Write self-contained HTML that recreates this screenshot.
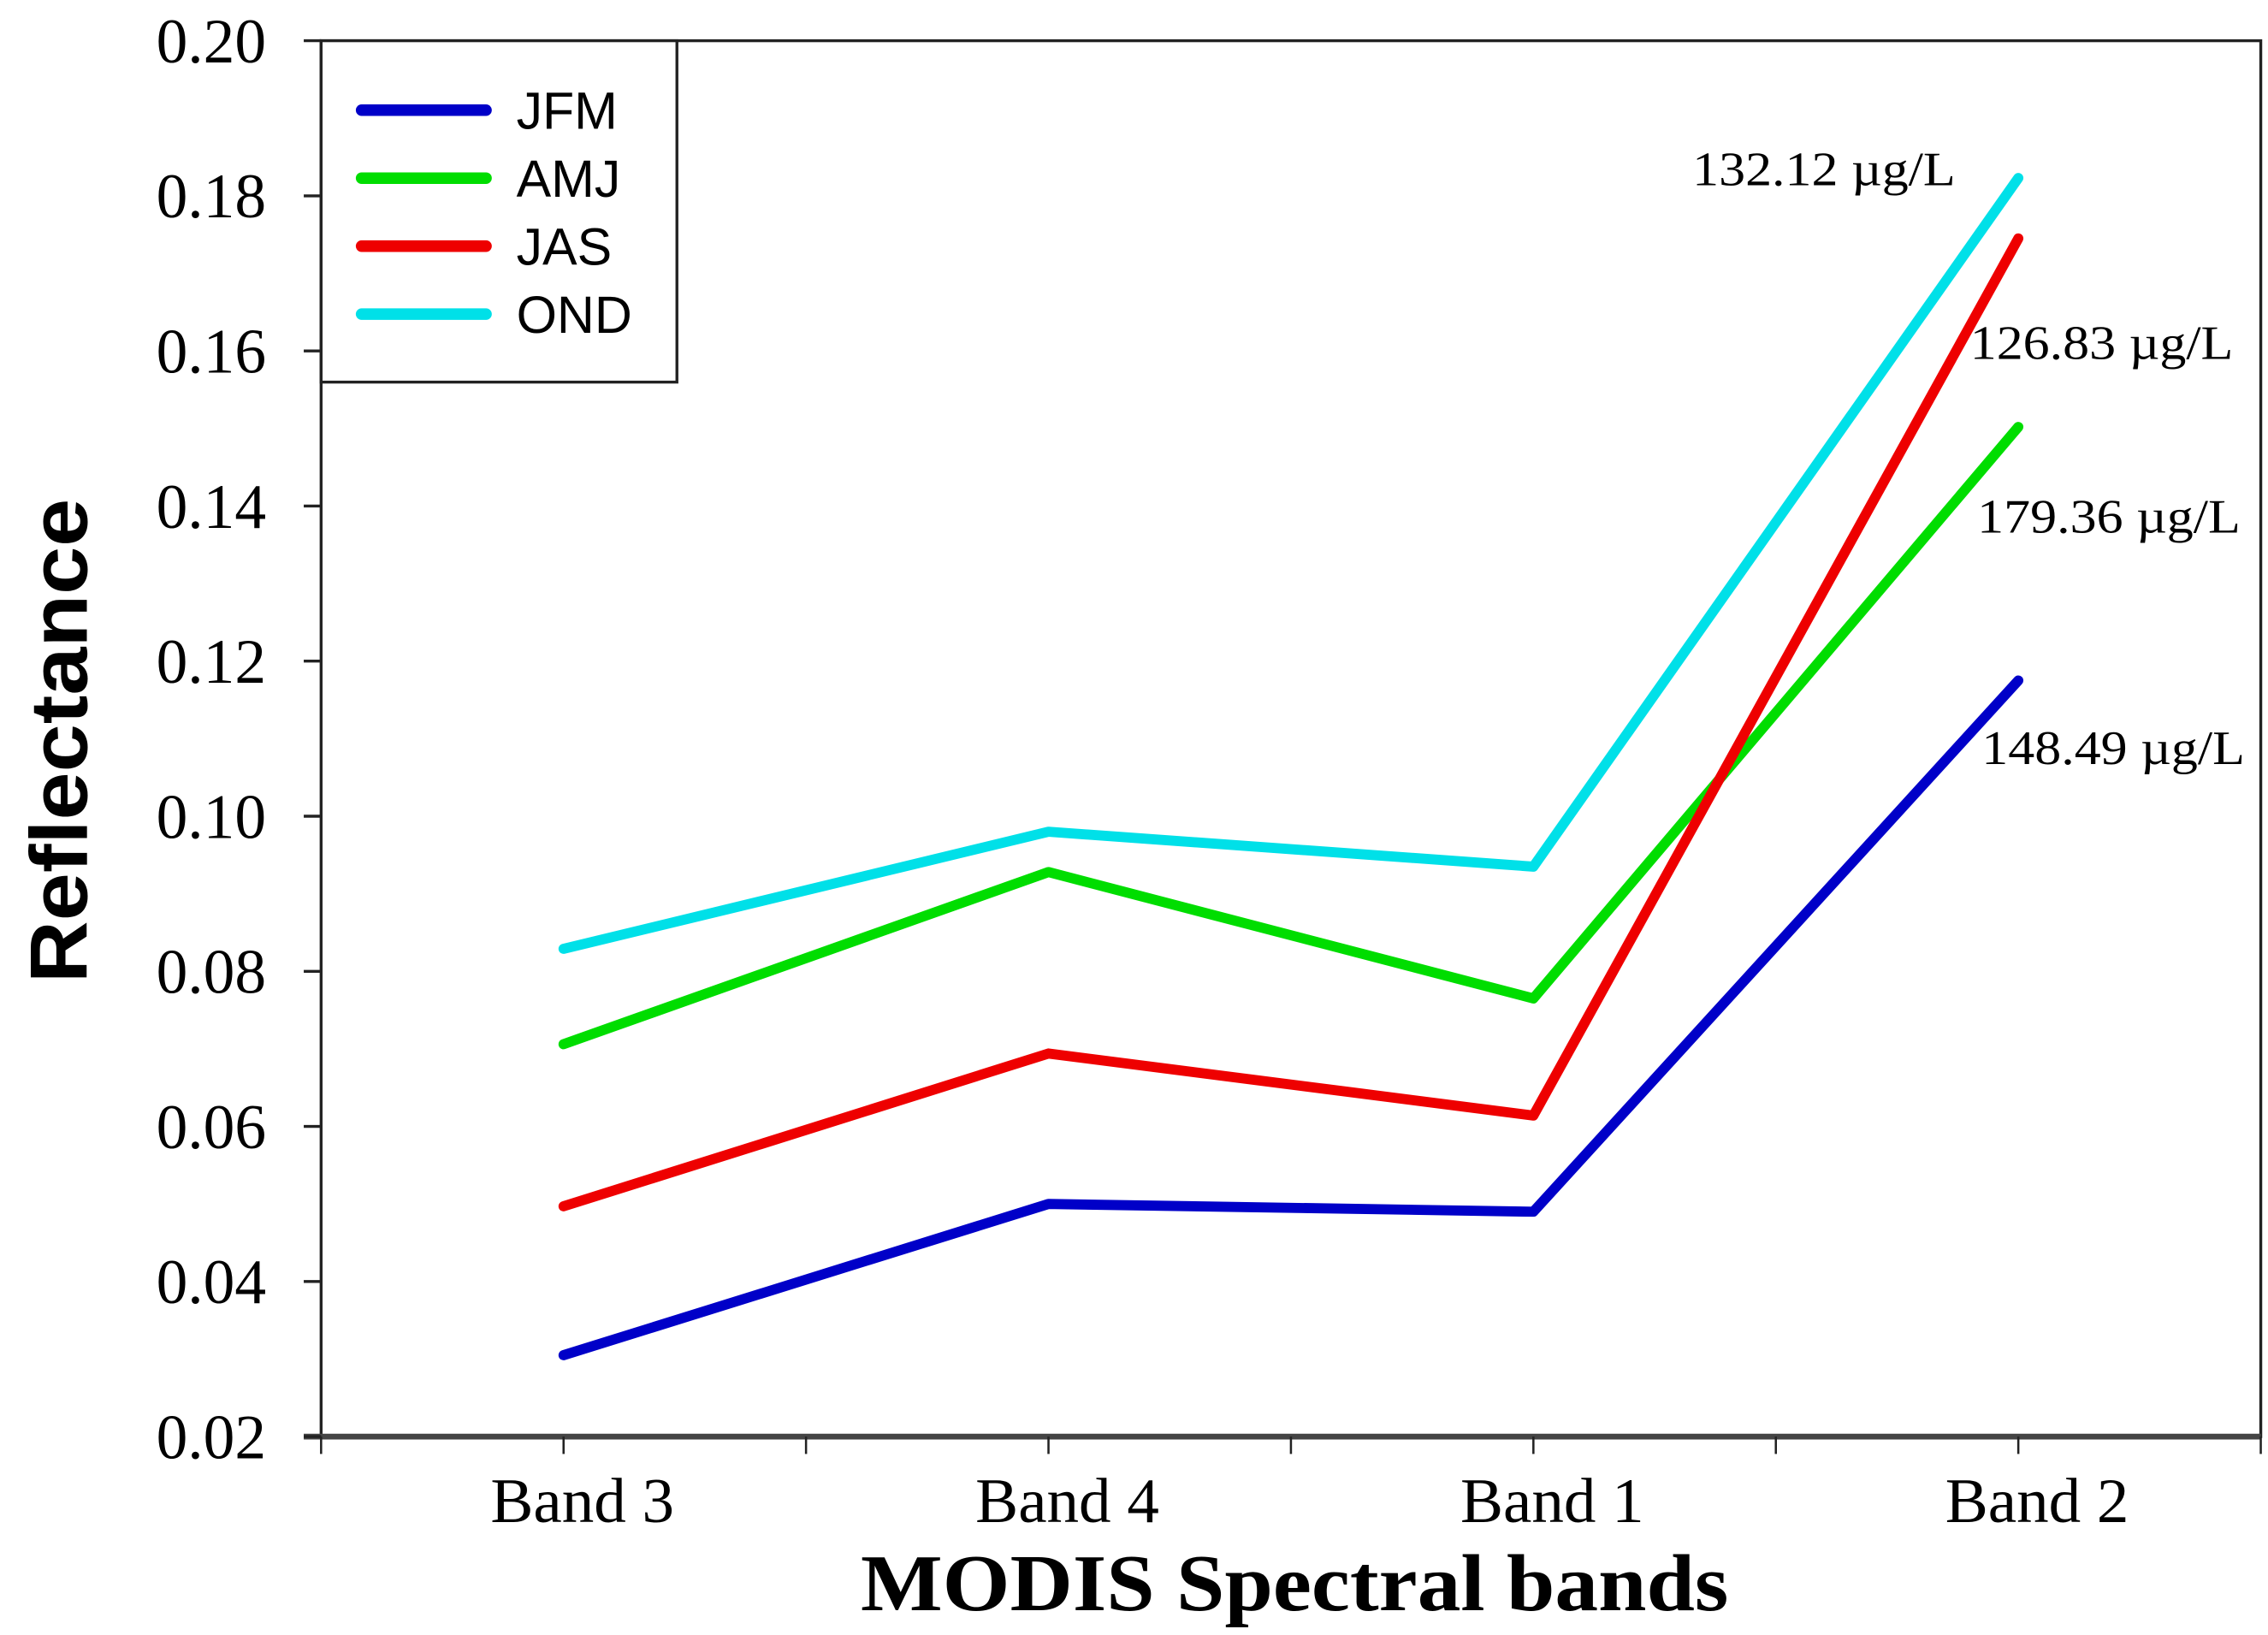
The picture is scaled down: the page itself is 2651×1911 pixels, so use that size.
<!DOCTYPE html>
<html><head><meta charset="utf-8"><style>
html,body{margin:0;padding:0;background:#fff;}
svg{display:block;}
</style></head><body>
<svg id="chart" width="2651" height="1911" viewBox="0 0 1568 1130" xmlns="http://www.w3.org/2000/svg">
<g id="axes"></g>
<g id="series"></g>
<g id="legend"></g>
<text transform="translate(60,512) rotate(-90)" text-anchor="middle" font-family="Liberation Sans, sans-serif" font-weight="bold" font-size="56" textLength="335" lengthAdjust="spacingAndGlyphs">Reflectance</text>
<text x="895" y="1113" text-anchor="middle" font-family="Liberation Serif, serif" font-weight="bold" font-size="56" textLength="600" lengthAdjust="spacingAndGlyphs">MODIS Spectral bands</text>
</svg>
<script>
const categories = ["Band 3","Band 4","Band 1","Band 2"];
const seriesNames = ["JFM","AMJ","JAS","OND"];
const jfm = [0.0305,0.050,0.049,0.1175];
const amj = [0.0706,0.0928,0.0765,0.1502];
const jas = [0.0497,0.0694,0.0614,0.1745];
const ond = [0.0829,0.098,0.0935,0.1823];
const yTicks = ["0.02","0.04","0.06","0.08","0.10","0.12","0.14","0.16","0.18","0.20"];
const annotations = ["132.12 µg/L","126.83 µg/L","179.36 µg/L","148.49 µg/L"];

const NS="http://www.w3.org/2000/svg";
const L=222,R=1563,T=28,B=993,yMin=0.02,yMax=0.20;
const y=v=>B-(v-yMin)/(yMax-yMin)*(B-T);
const x=i=>L+(i+0.5)*(R-L)/categories.length;
function mk(tag,parent,attrs){const e=document.createElementNS(NS,tag);for(const k in attrs)e.setAttribute(k,attrs[k]);parent.appendChild(e);return e;}
const ax=document.getElementById('axes');
let e;
e=mk('rect',ax,{x:L,y:T,width:R-L,height:B-T,fill:'none',stroke:'#222','stroke-width':2});


e=mk('line',ax,{x1:L-12,x2:R,y1:B,y2:B,stroke:'#444','stroke-width':4});


yTicks.forEach(t=>{const v=parseFloat(t),yy=y(v);
 e=mk('line',ax,{x1:L-12,x2:L,y1:yy,y2:yy,stroke:'#222','stroke-width':2});
 
 
 e=mk('text',ax,{x:184,y:yy+15,'text-anchor':'end','font-family':'Liberation Serif, serif','font-size':44,textLength:76,lengthAdjust:'spacingAndGlyphs'});
 e.textContent=t;
 
 
});
for(let i=0;i<=categories.length;i++){const xx=L+i*(R-L)/categories.length;
 e=mk('line',ax,{x1:xx,x2:xx,y1:B,y2:B+12,stroke:'#222','stroke-width':1.5});
 
 
}
categories.forEach((c,i)=>{
 e=mk('line',ax,{x1:x(i),x2:x(i),y1:B,y2:B+12,stroke:'#222','stroke-width':1.5});
 
 
 e=mk('text',ax,{x:x(i)+13,y:1052,'text-anchor':'middle','font-family':'Liberation Serif, serif','font-size':44,textLength:127,lengthAdjust:'spacingAndGlyphs'});
 e.textContent=c;
 
 
});
const colors=["#0000c8","#00dd00","#ee0000","#00e0e8"];
const all=[jfm,amj,jas,ond];
const sg=document.getElementById('series');
all.forEach((s,k)=>{
 e=mk('polyline',sg,{points:s.map((v,i)=>x(i)+','+y(v)).join(' '),fill:'none',stroke:colors[k],'stroke-width':7,'stroke-linejoin':'round','stroke-linecap':'round'});
 
 
});
const annPos=[[1170,128],[1362,248],[1367,368],[1370,528]];
annotations.forEach((a,i)=>{
 e=mk('text',sg,{x:annPos[i][0],y:annPos[i][1],'font-family':'Liberation Serif, serif','font-size':33,textLength:182,lengthAdjust:'spacingAndGlyphs'});
 e.textContent=a;
 
 
});
const lg=document.getElementById('legend');
e=mk('rect',lg,{x:L,y:T,width:246,height:236,fill:'#fff',stroke:'#222','stroke-width':2});


seriesNames.forEach((n,k)=>{const yy=76+k*47;
 e=mk('line',lg,{x1:250,x2:336,y1:yy,y2:yy,stroke:colors[k],'stroke-width':8,'stroke-linecap':'round'});
 
 
 e=mk('text',lg,{x:357,y:yy+13,'font-family':'Liberation Sans, sans-serif','font-size':36});
 e.textContent=n;
 
 
});
</script>
</body></html>
